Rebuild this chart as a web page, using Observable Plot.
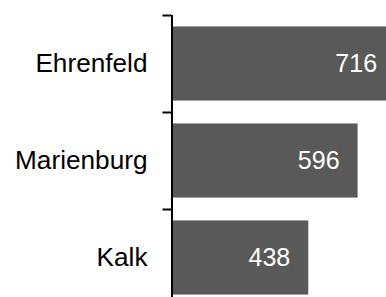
<!DOCTYPE html>
<html>
<head>
<meta charset="utf-8">
<script src="https://cdn.jsdelivr.net/npm/d3@7"></script>
<script src="https://cdn.jsdelivr.net/npm/@observablehq/plot@0.6"></script>
<style>
  html, body { margin: 0; padding: 0; background: white; }
</style>
</head>
<body>
<div id="chart"></div>
<script>
const categories = ["Ehrenfeld", "Marienburg", "Kalk"];
const values = [716, 596, 438];
const boundaries = [0, 1, 2, 3];

const data = categories.map((c, i) => ({name: c, value: values[i], i}));

const pad = 0.118;
const chart = Plot.plot({
  width: 386,
  height: 297,
  marginLeft: 171.5,
  marginRight: 0,
  marginTop: 15,
  marginBottom: 0,
  style: {fontFamily: "'Liberation Sans', Arial, sans-serif", background: "white"},
  x: {domain: [0, 687], range: [171.5, 386], axis: null},
  y: {domain: [0, 3], range: [15, 306], axis: null},
  marks: [
    Plot.rectX(data, {x1: 0, x2: "value", y1: d => d.i + pad, y2: d => d.i + 1 - pad, fill: "#595959", clip: true}),
    Plot.text(data, {x: "value", y: d => d.i + 0.5, text: d => String(d.value), textAnchor: "end", dx: -18.5, fill: "white", fontSize: 25}),
    Plot.text(data, {x: 0, y: d => d.i + 0.5, text: "name", textAnchor: "end", dx: -24.5, fill: "black", fontSize: 26.2}),
    Plot.ruleX([0], {y1: 0, y2: 3, stroke: "black", strokeWidth: 2}),
    Plot.axisY({ticks: boundaries, tickSize: 9, tickFormat: () => "", stroke: "black", strokeWidth: 2, strokeOpacity: 1, label: null})
  ]
});
document.getElementById("chart").appendChild(chart);
</script>
</body>
</html>
